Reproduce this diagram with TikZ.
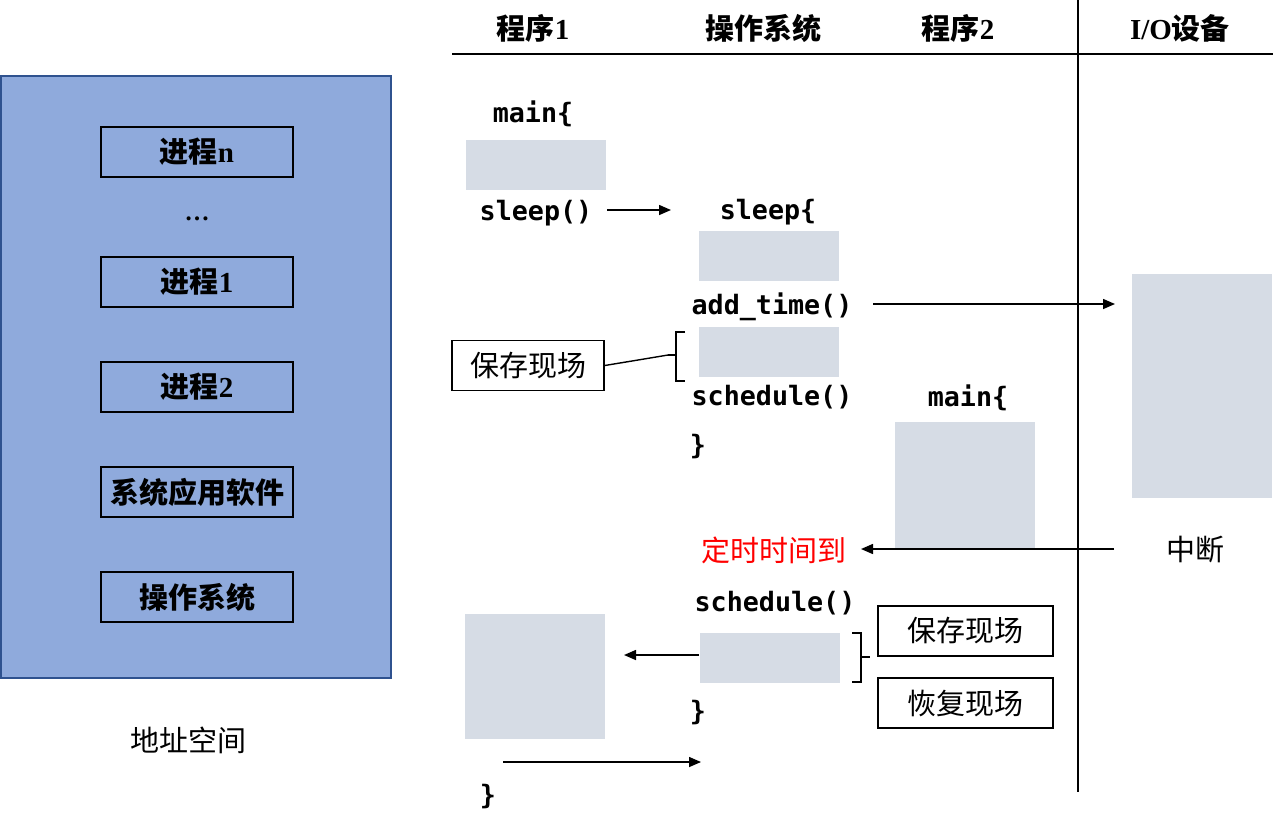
\documentclass[tikz,border=0pt]{standalone}
\usepackage{fontspec}
\setmainfont{Liberation Serif}
\setmonofont{DejaVu Sans Mono}
\newfontfamily\cjk{Noto Sans CJK SC}
\usetikzlibrary{arrows.meta}

\definecolor{panel}{HTML}{8FAADC}
\definecolor{panelline}{HTML}{2F528F}
\definecolor{block}{HTML}{D6DCE5}
\definecolor{alarm}{HTML}{FF0000}

\tikzset{
  code/.style={inner sep=0pt, font=\ttfamily\bfseries\fontsize{26.7}{26.7}\selectfont},
  head/.style={inner sep=0pt, font=\bfseries\fontsize{29}{29}\selectfont},
  cn/.style={inner sep=0pt, font=\cjk\fontsize{29}{29}\selectfont},
  procbox/.style={draw, line width=1.8pt, inner sep=0pt, minimum width=192pt,
    minimum height=50pt, font=\bfseries\fontsize{29}{29}\selectfont},
  ctxbox/.style={draw, line width=1.8pt, inner sep=0pt, minimum height=50pt,
    font=\cjk\fontsize{29}{29}\selectfont},
  block/.style={fill=block, inner sep=0pt, minimum width=140pt, minimum height=50pt},
  arr/.style={-{Triangle[length=12pt,width=10pt]}, line width=1.5pt},
  rule/.style={line width=1.8pt},
  brk/.style={line width=1.4pt},
}

\begin{document}
\begin{tikzpicture}[x=1pt,y=-1pt]
\useasboundingbox (0,0) rectangle (1274,831);

% address space panel
\node[draw=panelline, fill=panel, line width=1.8pt, inner sep=0pt,
  minimum width=390pt, minimum height=602pt] (space) at (196,377) {};
\node[procbox] (pn) at (197,152) {{\cjk\bfseries 进程}n};
\node[inner sep=0pt, font=\bfseries\fontsize{25}{25}\selectfont] (dots) at (197,219) {…};
\node[procbox] (p1) at (197,282) {{\cjk\bfseries 进程}1};
\node[procbox] (p2) at (197,387) {{\cjk\bfseries 进程}2};
\node[procbox] (apps) at (197,492) {{\cjk\bfseries 系统应用软件}};
\node[procbox] (os) at (197,597) {{\cjk\bfseries 操作系统}};
\node[cn] (spacelbl) at (188,740) {地址空间};

% column headers and rules
\node[head] (h1) at (533,28) {{\cjk\bfseries 程序}1};
\node[head] (h2) at (763,28) {{\cjk\bfseries 操作系统}};
\node[head] (h3) at (958,28) {{\cjk\bfseries 程序}2};
\node[head] (h4) at (1180,28) {I/O{\cjk\bfseries 设备}};
\coordinate (hl) at (452,54);
\coordinate (hr) at (1273,54);
\coordinate (vt) at (1078,0);
\coordinate (vb) at (1078,792);
\draw[rule] (hl) -- (hr);
\draw[rule] (vt) -- (vb);

% program 1
\node[code] (m1) at (533,114) {main\{};
\node[block] (b1) at (536,165) {};
\node[code] (sl) at (536,213) {sleep()};
\node[block, minimum height=125pt] (b1r) at (535,676.5) {};
\node[code] (c1) at (488,797) {\}};

% operating system
\node[code] (sl2) at (768,212) {sleep\{};
\node[block] (o1) at (769,256) {};
\node[code] (at) at (772,307) {add\_time()};
\node[block] (o2) at (769,352) {};
\node[code] (sc1) at (772,397) {schedule()};
\node[code] (c2) at (698,447) {\}};
\node[font=\cjk\fontsize{29}{29}\selectfont, text=alarm, inner sep=0pt] (tm) at (774,550) {定时时间到};
\node[code] (sc2) at (775,603) {schedule()};
\node[block] (o3) at (770,658) {};
\node[code] (c3) at (698,713) {\}};

% program 2
\node[code] (m2) at (968,398) {main\{};
\node[block, minimum height=127pt] (b2) at (965,485.5) {};

% I/O device
\node[block, minimum height=224pt] (io) at (1202,386) {};
\node[cn] (irq) at (1195,550) {中断};

% context boxes
\node[ctxbox, minimum width=152pt] (save1) at (528,365.5) {保存现场};
\node[ctxbox, minimum width=175pt] (save2) at (965.5,631) {保存现场};
\node[ctxbox, minimum width=175pt] (rest) at (965.5,703) {恢复现场};

% brackets
\coordinate (t1) at (668,355);
\draw[brk] (685,332) -- (676,332) -- (676,381) -- (685,381);
\draw[brk] (676,355) -- (t1);
\draw[brk] (save1.east) -- (t1);
\draw[brk] (852,633) -- (861,633) -- (861,682) -- (852,682);
\draw[brk] (861,657) -- (870,657);

% control flow
\coordinate (a1s) at (607,210);
\coordinate (a1e) at (671,210);
\draw[arr] (a1s) -- (a1e);
\coordinate (a2s) at (873,304);
\coordinate (a2e) at (1115,304);
\draw[arr] (a2s) -- (a2e);
\coordinate (a3s) at (1114,549);
\coordinate (a3e) at (861,549);
\draw[arr] (a3s) -- (a3e);
\coordinate (a4s) at (699,655);
\coordinate (a4e) at (624,655);
\draw[arr] (a4s) -- (a4e);
\coordinate (a5s) at (503,762);
\coordinate (a5e) at (701,762);
\draw[arr] (a5s) -- (a5e);
\end{tikzpicture}
\end{document}
